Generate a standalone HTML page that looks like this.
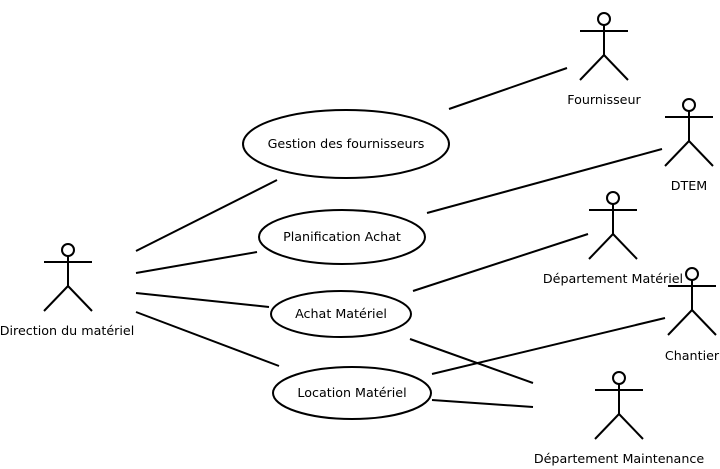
<!DOCTYPE html>
<html><head><meta charset="utf-8"><style>
html,body{margin:0;padding:0;background:#fff;}
svg{display:block;}
</style></head><body>
<svg width="720" height="469" viewBox="0 0 720 469" xmlns="http://www.w3.org/2000/svg">
<defs>
<g id="actor" fill="none" stroke="#000" stroke-width="2">
<circle cx="0" cy="0" r="6" fill="#fff"/>
<line x1="0" y1="6" x2="0" y2="36"/>
<line x1="-24" y1="12" x2="24" y2="12"/>
<line x1="0" y1="36" x2="-24" y2="61"/>
<line x1="0" y1="36" x2="24" y2="61"/>
</g>
</defs>
<g stroke="#000" stroke-width="2" fill="none">
<line x1="449" y1="109" x2="567" y2="68"/>
<line x1="136" y1="251" x2="277" y2="180"/>
<line x1="136" y1="273" x2="257" y2="252"/>
<line x1="136" y1="293" x2="269" y2="307"/>
<line x1="136" y1="312" x2="279" y2="366"/>
<line x1="427" y1="213" x2="662" y2="149"/>
<line x1="413" y1="291" x2="588" y2="234"/>
<line x1="410" y1="339" x2="533" y2="383"/>
<line x1="432" y1="374" x2="665" y2="318"/>
<line x1="432" y1="400" x2="533" y2="407"/>
<ellipse cx="346" cy="144" rx="103" ry="34"/>
<ellipse cx="342" cy="237" rx="83" ry="27"/>
<ellipse cx="341" cy="314" rx="70" ry="23"/>
<ellipse cx="352" cy="393" rx="79" ry="26"/>
</g>
<use href="#actor" x="604" y="19"/>
<use href="#actor" x="689" y="105"/>
<use href="#actor" x="613" y="198"/>
<use href="#actor" x="692" y="274"/>
<use href="#actor" x="619" y="378"/>
<use href="#actor" x="68" y="250"/>
<g text-anchor="middle" font-family="DejaVu Sans, Liberation Sans, sans-serif" font-size="12.7" fill="#000" style="font-size:12.7px">
<text x="346" y="148">Gestion des fournisseurs</text>
<text x="342" y="241">Planification Achat</text>
<text x="341" y="318">Achat Matériel</text>
<text x="352" y="397">Location Matériel</text>
<text x="604" y="104">Fournisseur</text>
<text x="689" y="190">DTEM</text>
<text x="613" y="283">Département Matériel</text>
<text x="692" y="360">Chantier</text>
<text x="619" y="463">Département Maintenance</text>
<text x="67" y="335">Direction du matériel</text>
</g>
</svg>
</body></html>
